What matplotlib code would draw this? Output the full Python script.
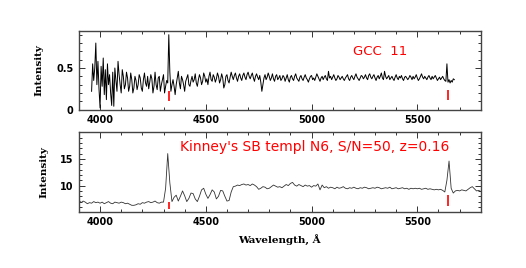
import numpy as np
import matplotlib
matplotlib.use("Agg")
import matplotlib.pyplot as plt
from matplotlib.ticker import MultipleLocator

# ---- data ----
# upper panel: GCC 11 spectrum, 5 A steps from 3960 to 5675
gcc_start, gcc_step = 3960, 5
gcc_flux = [
    0.22, 0.55, 0.35, 0.50, 0.80, 0.30, 0.58, 0.25, 0.02, 0.52, 0.28, 0.62, 0.18, 0.48, 0.12, 0.55, 0.30, 0.42, 0.20, 0.05,
    0.45, 0.04, 0.50, 0.35, 0.22, 0.58, 0.42, 0.30, 0.20, 0.48, 0.40, 0.25, 0.30, 0.45, 0.38, 0.22, 0.28, 0.44, 0.36, 0.20,
    0.26, 0.40, 0.35, 0.24, 0.30, 0.42, 0.38, 0.26, 0.22, 0.36, 0.44, 0.32, 0.28, 0.40, 0.25, 0.33, 0.42, 0.37, 0.20, 0.28,
    0.45, 0.30, 0.24, 0.38, 0.40, 0.22, 0.30, 0.36, 0.42, 0.20, 0.28, 0.35, 0.32, 0.90, 0.45, 0.22, 0.30, 0.36, 0.28, 0.18,
    0.30, 0.38, 0.46, 0.32, 0.25, 0.40, 0.36, 0.30, 0.22, 0.34, 0.38, 0.42, 0.30, 0.28, 0.35, 0.40, 0.33, 0.36, 0.43, 0.32,
    0.28, 0.36, 0.42, 0.38, 0.30, 0.34, 0.44, 0.40, 0.33, 0.37, 0.30, 0.40, 0.45, 0.36, 0.34, 0.42, 0.39, 0.33, 0.37, 0.44,
    0.40, 0.32, 0.36, 0.43, 0.38, 0.26, 0.30, 0.40, 0.42, 0.35, 0.32, 0.39, 0.45, 0.40, 0.36, 0.41, 0.44, 0.38, 0.34, 0.40,
    0.43, 0.38, 0.35, 0.41, 0.44, 0.39, 0.36, 0.42, 0.45, 0.40, 0.37, 0.41, 0.44, 0.38, 0.34, 0.40, 0.43, 0.39, 0.36, 0.41,
    0.33, 0.22, 0.30, 0.38, 0.42, 0.36, 0.39, 0.44, 0.40, 0.35, 0.38, 0.43, 0.37, 0.34, 0.40, 0.42, 0.36, 0.38, 0.41, 0.35,
    0.37, 0.41, 0.39, 0.34, 0.38, 0.42, 0.36, 0.33, 0.39, 0.41, 0.37, 0.35, 0.40, 0.43, 0.38, 0.36, 0.34, 0.39, 0.41, 0.37,
    0.35, 0.39, 0.42, 0.38, 0.36, 0.33, 0.37, 0.40, 0.41, 0.36, 0.38, 0.35, 0.39, 0.43, 0.40, 0.37, 0.34, 0.38, 0.40, 0.36,
    0.39, 0.41, 0.37, 0.35, 0.46, 0.38, 0.40, 0.36, 0.39, 0.42, 0.38, 0.35, 0.37, 0.41, 0.39, 0.36, 0.38, 0.40, 0.37, 0.35,
    0.38, 0.40, 0.42, 0.37, 0.35, 0.39, 0.41, 0.38, 0.36, 0.40, 0.43, 0.39, 0.37, 0.35, 0.38, 0.41, 0.40, 0.37, 0.39, 0.42,
    0.38, 0.36, 0.41, 0.43, 0.39, 0.37, 0.40, 0.42, 0.38, 0.35, 0.39, 0.41, 0.37, 0.40, 0.44, 0.38, 0.36, 0.46, 0.40, 0.37,
    0.39, 0.41, 0.36, 0.38, 0.40, 0.37, 0.35, 0.39, 0.42, 0.38, 0.36, 0.40, 0.38, 0.41, 0.37, 0.35, 0.39, 0.40, 0.38, 0.36,
    0.38, 0.41, 0.39, 0.36, 0.40, 0.37, 0.39, 0.42, 0.38, 0.35, 0.37, 0.40, 0.43, 0.39, 0.37, 0.40, 0.38, 0.36, 0.39, 0.41,
    0.38, 0.36, 0.40, 0.37, 0.39, 0.41, 0.38, 0.35, 0.37, 0.39, 0.36, 0.38, 0.40, 0.37, 0.35, 0.34, 0.55, 0.33, 0.36, 0.32,
    0.35, 0.33, 0.37, 0.36,
]

# lower panel: Kinney SB template, 10 A steps from 3900 to 5800
sb_start, sb_step = 3900, 10
sb_flux = [
    7.3, 6.8, 7.1, 6.9, 6.6, 6.8, 6.7, 7.0, 6.8, 6.9,
    6.7, 6.9, 6.6, 6.8, 7.0, 6.7, 6.6, 6.9, 6.8, 6.7,
    6.9, 6.8, 6.6, 6.7, 6.5, 6.3, 6.3, 6.4, 6.6, 6.5,
    6.8, 6.7, 6.9, 7.0, 6.8, 6.9, 7.1, 6.8, 6.7, 6.9,
    6.9, 9.5, 16.0, 10.5, 7.0, 7.8, 8.2, 7.1, 8.0, 9.0,
    8.1, 7.0, 7.6, 8.6, 8.5, 7.5, 7.0, 8.0, 9.2, 9.5,
    8.4, 7.6, 8.3, 9.2, 8.8, 7.5, 8.0, 9.1, 9.0, 8.0,
    7.1, 7.2, 8.8, 9.8, 9.9, 10.1, 10.0, 10.2, 10.3, 10.1,
    10.2, 10.0, 10.3, 10.1, 9.8, 9.3, 9.5, 9.8, 9.7, 9.4,
    9.5, 9.8, 10.1, 9.9, 9.7, 9.8, 9.6, 9.9, 10.2, 10.0,
    10.4, 10.6, 10.1, 9.9, 10.2, 10.0, 9.8, 10.1, 9.9, 10.0,
    9.7, 10.0, 9.9, 10.3, 9.2, 10.1, 9.6, 9.8, 9.5, 9.7,
    9.6, 9.4, 9.7, 9.5, 9.6, 9.8, 9.5, 9.4, 9.6, 9.5,
    9.7, 9.5, 9.4, 9.6, 9.5, 9.7, 9.6, 9.4, 9.5, 9.6,
    9.5, 9.7, 9.6, 9.4, 9.5, 9.6, 9.5, 9.7, 9.4, 9.5,
    9.6, 9.4, 9.5, 9.6, 9.4, 9.5, 9.3, 9.5, 9.4, 9.5,
    9.4, 9.5, 9.3, 9.4, 9.5, 9.3, 9.4, 9.3, 9.2, 9.3,
    9.2, 9.3, 9.1, 8.8, 11.0, 14.6, 9.5, 8.6, 9.0, 9.1,
    9.0, 9.2, 9.1, 9.0, 9.3, 9.6, 9.8, 9.4, 9.0, 9.1,
    8.9,
]

# red line markers (wavelength, bottom, top)
line_wave = [4325, 5645]
gcc_mark_lo = [0.10, 0.12]
gcc_mark_hi = [0.22, 0.23]
sb_mark_lo = [5.6, 6.2]
sb_mark_hi = [7.0, 8.2]

gcc_yticks = [0, 0.5]
gcc_yticklabels = ["0", "0.5"]
sb_yticks = [10, 15]
sb_yticklabels = ["10", "15"]
xticks = [4000, 4500, 5000, 5500]

gcc_title = "GCC  11"
sb_title = "Kinney's SB templ N6, S/N=50, z=0.16"

gcc_wave = gcc_start + gcc_step * np.arange(len(gcc_flux))
sb_wave = sb_start + sb_step * np.arange(len(sb_flux))

# ---- figure ----
fig = plt.figure(figsize=(5.26, 2.68), dpi=100)
ax1 = fig.add_axes([0.150, 0.591, 0.764, 0.295])
ax2 = fig.add_axes([0.150, 0.210, 0.764, 0.2985])

tick_font = {"family": "DejaVu Sans", "weight": "bold", "size": 7}
label_font = {"family": "DejaVu Serif", "weight": "bold", "size": 7.5}


def style_axes(ax, minor_y):
    ax.set_xlim(3900, 5800)
    ax.set_xticks(xticks)
    ax.xaxis.set_minor_locator(MultipleLocator(100))
    ax.yaxis.set_minor_locator(MultipleLocator(minor_y))
    ax.tick_params(which="both", direction="in", top=True, right=True,
                   width=0.7, color="#333333", pad=4)
    ax.tick_params(which="major", length=4.0)
    ax.tick_params(which="minor", length=2.0)
    for s in ax.spines.values():
        s.set_linewidth(1.0)
        s.set_color("#444444")
    for t in ax.get_xticklabels() + ax.get_yticklabels():
        t.set_fontfamily(tick_font["family"])
        t.set_fontweight(tick_font["weight"])
        t.set_fontsize(tick_font["size"])


# upper panel
ax1.plot(gcc_wave, gcc_flux, color="black", lw=0.7)
ax1.vlines(line_wave, gcc_mark_lo, gcc_mark_hi, colors="red", lw=1.2)
ax1.set_ylim(0, 0.95)
ax1.set_yticks(gcc_yticks)
ax1.set_yticklabels(gcc_yticklabels)
style_axes(ax1, 0.1)
ax1.set_ylabel("Intensity", fontdict=label_font, labelpad=9)
ax1.text(5323, 0.70, gcc_title, color="red", fontsize=9.5,
         family="DejaVu Sans", ha="center", va="center")

# lower panel
ax2.plot(sb_wave, sb_flux, color="#333333", lw=0.6)
ax2.vlines(line_wave, sb_mark_lo, sb_mark_hi, colors="red", lw=1.2)
ax2.set_ylim(5.1, 20.1)
ax2.set_yticks(sb_yticks)
ax2.set_yticklabels(sb_yticklabels)
style_axes(ax2, 1)
ax2.set_ylabel("Intensity", fontdict=label_font, labelpad=8)
ax2.set_xlabel("Wavelength, \u00c5", fontdict=label_font, labelpad=5)
ax2.text(5013, 17.2, sb_title, color="red", fontsize=10,
         family="DejaVu Sans", ha="center", va="center")

fig.savefig("out.png", dpi=100)
